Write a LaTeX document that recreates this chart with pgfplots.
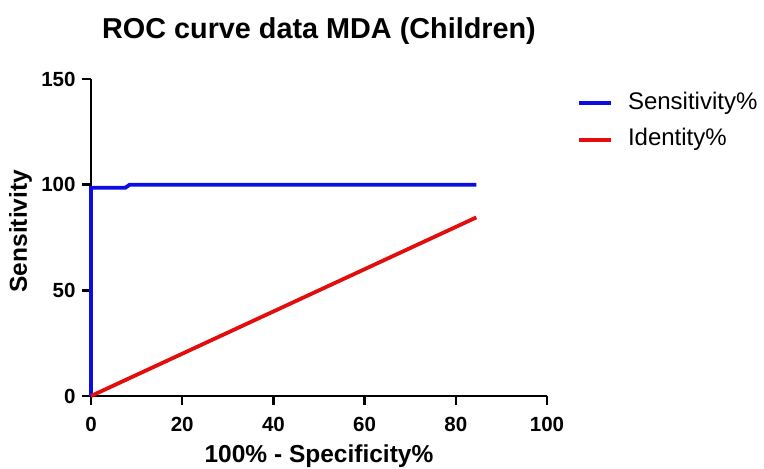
\documentclass[border=0pt]{standalone}
\usepackage{fontspec}
\setmainfont{Liberation Sans}
\usepackage{pgfplots}
\pgfplotsset{compat=1.18}
\definecolor{rocblue}{RGB}{12,12,228}
\definecolor{rocred}{RGB}{226,14,14}
\begin{document}
\begin{tikzpicture}
\path[use as bounding box] (-91bp,-73bp) rectangle (673bp,396bp);
\begin{axis}[
  scale only axis, width=456bp, height=317bp,
  xmin=0, xmax=100, ymin=0, ymax=150,
  axis lines=left,
  axis line style={-, line width=2.5bp, black},
  xtick={0,20,40,60,80,100}, ytick={0,50,100,150},
  tick align=outside, major tick length=9bp,
  tick style={line width=2.5bp, black},
  /pgf/number format/assume math mode=true,
  ticklabel style={font=\bfseries\fontsize{20.5bp}{24bp}\selectfont},
  xticklabel style={yshift=-9bp},
  yticklabel style={xshift=-3bp},
  clip=false,
  title={ROC curve data MDA (Children)},
  title style={font=\bfseries\fontsize{28.8bp}{32bp}\selectfont,
    at={(axis description cs:0.5,1)}, anchor=base, yshift=35bp},
  xlabel={100\% - Specificity\%},
  xlabel style={font=\bfseries\fontsize{24.5bp}{28bp}\selectfont,
    at={(axis description cs:0.5,0)}, anchor=base, yshift=-66bp},
  ylabel={Sensitivity},
  ylabel style={font=\bfseries\fontsize{24.5bp}{28bp}\selectfont,
    at={(axis description cs:-0.1404,0.52)}, anchor=base},
  legend cell align=left,
  legend image code/.code={\draw[#1] (0bp,0bp) -- (32bp,0bp);},
  legend style={at={(axis description cs:1.0658,0.9586)}, anchor=north west,
    draw=none, fill=none, inner sep=0pt, row sep=14.5bp,
    font=\fontsize{24bp}{28bp}\selectfont,
    nodes={inner sep=0pt, text height=17bp, text depth=5bp},
    column sep=0bp},
]
\addplot[rocblue, line width=3.8bp] coordinates {(0,0) (0,98.5) (7.5,98.5) (8.5,100) (84.5,100)};
\addlegendentry{\hspace{15bp}Sensitivity\%}
\addplot[rocred, line width=3.8bp] coordinates {(0,0) (84.5,84.5)};
\addlegendentry{\hspace{15bp}Identity\%}
\end{axis}
\end{tikzpicture}
\end{document}
